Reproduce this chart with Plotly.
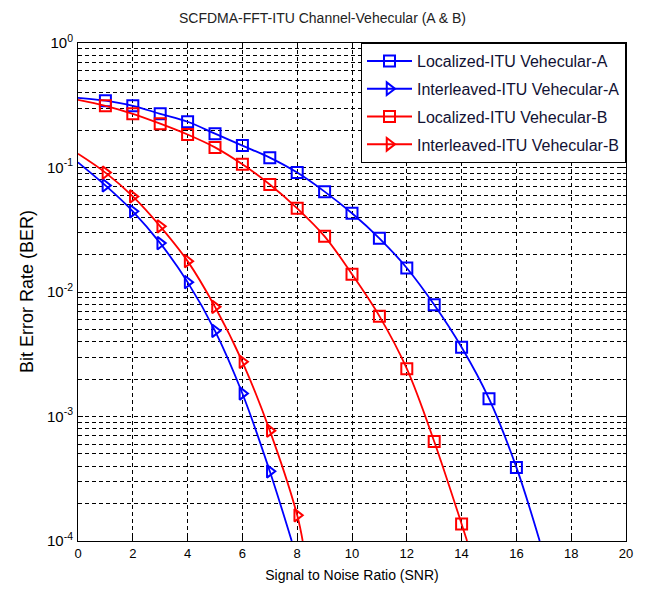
import plotly.graph_objects as go

# ---- data ----
# smooth curves (line) including the start at SNR=0 and where each leaves the axis
locA_x = [0, 1, 2, 3, 4, 5, 6, 7, 8, 9, 10, 11, 12, 13, 14, 15, 16, 16.85]
locA_y = [0.363, 0.344, 0.313, 0.270, 0.233, 0.187, 0.150, 0.120, 0.091, 0.064,
          0.0429, 0.027, 0.0156, 0.0079, 0.0036, 0.00139, 0.00039, 0.0001]
intA_x = [0, 1, 2, 3, 4, 5, 6, 7, 7.8]
intA_y = [0.11, 0.0718, 0.0445, 0.0247, 0.012, 0.00488, 0.00153, 0.000363, 0.0001]
locB_x = [0, 1, 2, 3, 4, 5, 6, 7, 8, 9, 10, 11, 12, 13, 14, 14.2]
locB_y = [0.35, 0.313, 0.270, 0.225, 0.184, 0.145, 0.106, 0.073, 0.047, 0.028,
          0.0139, 0.0064, 0.00242, 0.00063, 0.000137, 0.0001]
intB_x = [0, 1, 2, 3, 4, 5, 6, 7, 8, 8.2]
intB_y = [0.129, 0.091, 0.0586, 0.0337, 0.0177, 0.0076, 0.00275, 0.00077, 0.000161, 0.0001]

names = ["Localized-ITU Vehecular-A", "Interleaved-ITU Vehecular-A",
         "Localized-ITU Vehecular-B", "Interleaved-ITU Vehecular-B"]
colors = ["#0000FF", "#0000FF", "#FF0000", "#FF0000"]
symbols = ["square-open", "triangle-right-open", "square-open", "triangle-right-open"]
series = [(locA_x, locA_y), (intA_x, intA_y), (locB_x, locB_y), (intB_x, intB_y)]

ytick_vals = [1e-4, 1e-3, 1e-2, 1e-1, 1]
ytick_text = ["10<sup>-4</sup>", "10<sup>-3</sup>", "10<sup>-2</sup>", "10<sup>-1</sup>", "10<sup>0</sup>"]

fig = go.Figure()
for (xs, ys), n, c, s in zip(series, names, colors, symbols):
    # smooth line
    fig.add_trace(go.Scatter(x=xs, y=ys, mode="lines", line=dict(color=c, width=1.8, shape="spline"),
                             showlegend=False, legendgroup=n, hoverinfo="skip"))
    # markers at integer SNR points (skip the start and the exit points)
    mx = list(xs[1:-1])
    my = list(ys[1:-1])
    fig.add_trace(go.Scatter(x=mx, y=my, mode="markers",
                             marker=dict(symbol=s, size=11, color=c, line=dict(color=c, width=2)),
                             showlegend=False, legendgroup=n))
    # legend entry
    fig.add_trace(go.Scatter(x=[None], y=[None], mode="lines+markers", name=n, legendgroup=n,
                             line=dict(color=c, width=2),
                             marker=dict(symbol=s, size=11, color=c, line=dict(color=c, width=2))))

grid_dash = "4px,3px"
fig.update_layout(
    width=645, height=592,
    margin=dict(l=78, r=18, t=43, b=49),
    paper_bgcolor="white", plot_bgcolor="white",
    font=dict(family="Liberation Sans, Arial, sans-serif", size=12, color="black"),
    title=dict(text="SCFDMA-FFT-ITU Channel-Vehecular (A & B)", x=0.5, xanchor="center",
               y=1 - 18 / 592, yanchor="middle", font=dict(size=14, color="#222222")),
    xaxis=dict(range=[0, 20], dtick=2, tick0=0, showgrid=True, gridcolor="black", griddash=grid_dash,
               gridwidth=1, zeroline=False, showline=True, linecolor="black", linewidth=1, mirror="ticks",
               ticks="inside", ticklen=5, tickcolor="black",
               title=dict(text="Signal to Noise Ratio (SNR)", standoff=10, font=dict(size=14)),
               tickfont=dict(size=13)),
    yaxis=dict(type="log", range=[-4, 0], tickmode="array", tickvals=ytick_vals, ticktext=ytick_text,
               showgrid=True, gridcolor="black", griddash=grid_dash, gridwidth=1, zeroline=False,
               showline=True, linecolor="black", linewidth=1, mirror="ticks",
               ticks="inside", ticklen=5, tickcolor="black", ticklabelstandoff=1,
               minor=dict(showgrid=True, gridcolor="black", griddash=grid_dash, gridwidth=1,
                          ticks="inside", ticklen=3, tickcolor="black", dtick="D1", tickmode="linear"),
               tickfont=dict(size=15)),
    legend=dict(x=1, y=1, xanchor="right", yanchor="top", bgcolor="white",
                bordercolor="black", borderwidth=1, font=dict(size=16, color="#111133"),
                traceorder="grouped", tracegroupgap=4, itemwidth=45),
    annotations=[dict(text="Bit Error Rate (BER)", textangle=-90, xref="paper", yref="paper",
                      x=(27 - 78) / 549, y=0.5, xanchor="center", yanchor="middle",
                      showarrow=False, font=dict(size=18))],
)
fig.write_html("out.html", post_script="document.body.style.margin='0px';",
               config={"displayModeBar": False})
